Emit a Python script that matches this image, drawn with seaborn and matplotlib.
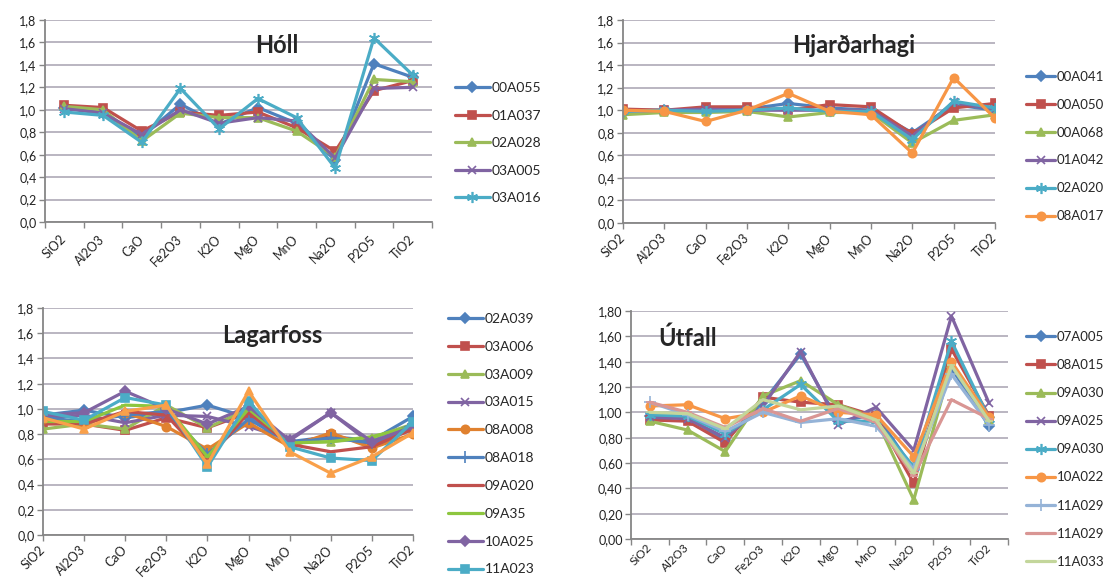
import numpy as np
import seaborn as sns
import matplotlib.pyplot as plt

# Data
oxides = ['SiO2', 'Al2O3', 'CaO', 'Fe2O3', 'K2O', 'MgO', 'MnO', 'Na2O', 'P2O5', 'TiO2']

holl_names = ['00A055', '01A037', '02A028', '03A005', '03A016']
holl_00A055 = [1.02, 0.97, 0.76, 1.05, 0.87, 1.02, 0.88, 0.55, 1.41, 1.29]
holl_01A037 = [1.04, 1.02, 0.81, 0.98, 0.95, 0.98, 0.84, 0.63, 1.17, 1.26]
holl_02A028 = [1.03, 1.00, 0.72, 0.97, 0.93, 0.93, 0.81, 0.58, 1.27, 1.25]
holl_03A005 = [1.01, 0.97, 0.78, 1.00, 0.88, 0.93, 0.90, 0.57, 1.19, 1.20]
holl_03A016 = [0.98, 0.95, 0.71, 1.19, 0.83, 1.10, 0.93, 0.48, 1.64, 1.31]

hjard_names = ['00A041', '00A050', '00A068', '01A042', '02A020', '08A017']
hjard_00A041 = [1.00, 1.00, 1.00, 1.01, 1.06, 1.02, 1.00, 0.80, 1.05, 1.00]
hjard_00A050 = [1.01, 1.00, 1.03, 1.03, 1.00, 1.05, 1.03, 0.79, 1.02, 1.06]
hjard_00A068 = [0.96, 0.98, 0.98, 0.99, 0.94, 0.98, 0.98, 0.71, 0.91, 0.96]
hjard_01A042 = [0.99, 1.00, 1.01, 1.00, 1.00, 1.00, 1.00, 0.77, 1.07, 1.01]
hjard_02A020 = [0.99, 1.00, 0.99, 1.00, 1.02, 0.99, 0.99, 0.74, 1.08, 1.02]
hjard_08A017 = [1.00, 0.99, 0.90, 1.00, 1.15, 0.99, 0.96, 0.62, 1.29, 0.93]

lagar_names = ['02A039', '03A006', '03A009', '03A015', '08A008', '08A018',
               '09A020', '09A35', '10A025', '11A023', '_nolegend_']
lagar_02A039 = [0.95, 0.99, 0.93, 0.97, 1.03, 0.93, 0.74, 0.78, 0.75, 0.94]
lagar_03A006 = [0.88, 0.88, 0.83, 0.93, 0.85, 0.97, 0.72, 0.79, 0.72, 0.85]
lagar_03A009 = [0.84, 0.88, 0.84, 1.03, 0.85, 1.00, 0.73, 0.74, 0.77, 0.88]
lagar_03A015 = [0.93, 0.95, 0.89, 0.95, 0.94, 0.86, 0.76, 0.97, 0.72, 0.86]
lagar_08A008 = [0.92, 0.88, 0.97, 0.86, 0.68, 0.89, 0.70, 0.81, 0.69, 0.80]
lagar_08A018 = [0.93, 0.90, 0.95, 0.98, 0.64, 0.92, 0.73, 0.77, 0.73, 0.88]
lagar_09A020 = [0.90, 0.88, 0.98, 0.95, 0.60, 0.97, 0.72, 0.66, 0.70, 0.84]
lagar_09A35 = [0.90, 0.90, 1.03, 1.02, 0.62, 1.00, 0.73, 0.74, 0.78, 0.86]
lagar_10A025 = [0.95, 0.97, 1.14, 1.00, 0.88, 1.02, 0.75, 0.97, 0.74, 0.86]
lagar_11A023 = [0.98, 0.91, 1.09, 1.03, 0.54, 1.06, 0.70, 0.61, 0.59, 0.90]
lagar_extra = [0.93, 0.84, 0.98, 1.03, 0.56, 1.14, 0.66, 0.49, 0.62, 0.81]

utf_names = ['07A005', '08A015', '09A030', '09A025', '09A030', '10A022',
             '11A029', '11A029', '11A033']
utf_07A005 = [0.97, 0.96, 0.78, 1.08, 1.46, 0.93, 0.98, 0.55, 1.35, 0.89]
utf_08A015 = [0.94, 0.93, 0.76, 1.12, 1.08, 1.06, 0.97, 0.44, 1.50, 0.97]
utf_09A030g = [0.93, 0.86, 0.69, 1.13, 1.25, 1.06, 0.95, 0.31, 1.38, 0.94]
utf_09A025 = [0.96, 0.95, 0.80, 1.05, 1.48, 0.90, 1.04, 0.70, 1.76, 1.07]
utf_09A030c = [0.98, 0.97, 0.83, 1.02, 1.22, 0.93, 0.93, 0.57, 1.56, 0.95]
utf_10A022 = [1.05, 1.06, 0.95, 1.00, 1.13, 1.00, 0.98, 0.65, 1.40, 0.96]
utf_11A029a = [1.08, 0.98, 0.85, 1.00, 0.92, 0.95, 0.89, 0.55, 1.30, 0.90]
utf_11A029b = [1.08, 1.00, 0.88, 1.03, 0.93, 1.03, 0.92, 0.50, 1.10, 0.95]
utf_11A033 = [1.00, 0.99, 0.87, 1.10, 1.02, 1.05, 0.94, 0.52, 1.37, 0.93]

# Excel-like styles
BLUE, RED, GREEN, PURPLE, CYAN, ORANGE = '#4F81BD', '#C0504D', '#9BBB59', '#8064A2', '#4BACC6', '#F79646'
STAR = (6, 2, 0)

sns.set_theme(style='white')
plt.rcParams['font.family'] = ['Lato', 'DejaVu Sans']

fig = plt.figure(figsize=(11.12, 5.81), dpi=100)
W, H = 1112, 581


def px_axes(l, t, r, b):
    return fig.add_axes([l / W, 1 - b / H, (r - l) / W, (b - t) / H])


def style_axes(ax, between, ylabels, pad=11, xsize=9):
    x = np.arange(len(oxides))
    if between:
        ax.set_xlim(-0.5, len(oxides) - 0.5)
        ax.set_xticks(x)
        ax.set_xticks(np.arange(-0.5, len(oxides), 1), minor=True)
        ax.tick_params(axis='x', which='major', length=0, pad=pad)
        ax.tick_params(axis='x', which='minor', length=4, width=1, color='#868686', bottom=True)
    else:
        ax.set_xlim(0, len(oxides) - 1)
        ax.set_xticks(x)
        ax.tick_params(axis='x', which='major', length=4, width=1, color='#868686', bottom=True, pad=pad)
    ax.set_xticklabels(oxides, rotation=45, ha='right', va='center', rotation_mode='anchor',
                       fontsize=xsize, color='#222222')
    yt = np.arange(0, 1.81, 0.2)
    ax.set_ylim(0, 1.8)
    ax.set_yticks(yt)
    ax.set_yticklabels(ylabels, fontsize=9, color='#222222')
    ax.tick_params(axis='y', length=4, width=1, color='#868686', left=True, pad=2)
    ax.grid(axis='y', color='#B4B0BC', linewidth=1.3)
    ax.grid(axis='x', visible=False)
    for s in ['top', 'right']:
        ax.spines[s].set_visible(False)
    for s in ['left', 'bottom']:
        ax.spines[s].set_color('#868686')
        ax.spines[s].set_linewidth(1.3)
    ax.set_xlabel('')
    ax.set_ylabel('')
    ax.set_axisbelow(True)


def draw(ax, series, names, styles):
    x = np.arange(len(oxides))
    for vals, name, (col, mk, ms) in zip(series, names, styles):
        sns.lineplot(x=x, y=vals, ax=ax, color=col, marker=mk, markersize=ms,
                     markeredgecolor=col, markerfacecolor=col, markeredgewidth=1.2,
                     linewidth=2.3, label=name, sort=False)


def add_legend(ax, left, top, spacing, size=10, hlen=2.5):
    ax.legend(loc='upper left', bbox_to_anchor=(left / W, 1 - top / H), bbox_transform=fig.transFigure,
              frameon=False, fontsize=size, handlelength=hlen, handletextpad=0.15, labelspacing=spacing,
              borderpad=0, borderaxespad=0)


lab1 = [f'{v:.1f}'.replace('.', ',') for v in np.arange(0, 1.81, 0.2)]
lab2 = [f'{v:.2f}'.replace('.', ',') for v in np.arange(0, 1.81, 0.2)]

# Hóll
ax1 = px_axes(45, 20, 432, 222)
draw(ax1, [holl_00A055, holl_01A037, holl_02A028, holl_03A005, holl_03A016], holl_names,
     [(BLUE, 'D', 5), (RED, 's', 6), (GREEN, '^', 6), (PURPLE, 'x', 6), (CYAN, STAR, 8)])
style_axes(ax1, True, lab1)
ax1.text(0.6, 0.93, 'Hóll', transform=ax1.transAxes, ha='center', va='top', fontsize=17, fontweight='bold')
add_legend(ax1, 455, 82, 1.12)

# Hjarðarhagi
ax2 = px_axes(623, 20, 995, 223)
draw(ax2, [hjard_00A041, hjard_00A050, hjard_00A068, hjard_01A042, hjard_02A020, hjard_08A017], hjard_names,
     [(BLUE, 'D', 5), (RED, 's', 6), (GREEN, '^', 6), (PURPLE, 'x', 6), (CYAN, STAR, 8), (ORANGE, 'o', 6)])
style_axes(ax2, False, lab1, pad=5)
ax2.text(0.62, 0.93, 'Hjarðarhagi', transform=ax2.transAxes, ha='center', va='top', fontsize=17, fontweight='bold')
add_legend(ax2, 1026, 71, 1.2, size=9.5, hlen=2.2)

# Lagarfoss
ax3 = px_axes(43, 308, 413, 535)
draw(ax3, [lagar_02A039, lagar_03A006, lagar_03A009, lagar_03A015, lagar_08A008, lagar_08A018,
           lagar_09A020, lagar_09A35, lagar_10A025, lagar_11A023, lagar_extra], lagar_names,
     [(BLUE, 'D', 5), (RED, 's', 6), (GREEN, '^', 6), (PURPLE, 'x', 6), ('#E0812F', 'o', 6),
      (BLUE, '+', 9), (RED, '_', 6), ('#8DC63F', '_', 6), (PURPLE, 'D', 5), (CYAN, 's', 6), ('#F9A04A', '^', 6)])
style_axes(ax3, False, lab1, pad=5)
ax3.text(0.62, 0.93, 'Lagarfoss', transform=ax3.transAxes, ha='center', va='top', fontsize=17, fontweight='bold')
add_legend(ax3, 448, 313, 1.14)

# Útfall
ax4 = px_axes(631, 311, 1008, 539)
draw(ax4, [utf_07A005, utf_08A015, utf_09A030g, utf_09A025, utf_09A030c, utf_10A022,
           utf_11A029a, utf_11A029b, utf_11A033], utf_names,
     [(BLUE, 'D', 5), (RED, 's', 6), (GREEN, '^', 6), (PURPLE, 'x', 6), (CYAN, STAR, 8), (ORANGE, 'o', 6),
      ('#95B3D7', '+', 9), ('#D99694', '_', 6), ('#C3D69B', '_', 6)])
style_axes(ax4, True, lab2, pad=5, xsize=8.5)
ax4.text(0.15, 0.93, 'Útfall', transform=ax4.transAxes, ha='center', va='top', fontsize=17, fontweight='bold')
add_legend(ax4, 1026, 331, 1.22, size=9.5, hlen=2.2)

fig.savefig('out.png', dpi=100)
